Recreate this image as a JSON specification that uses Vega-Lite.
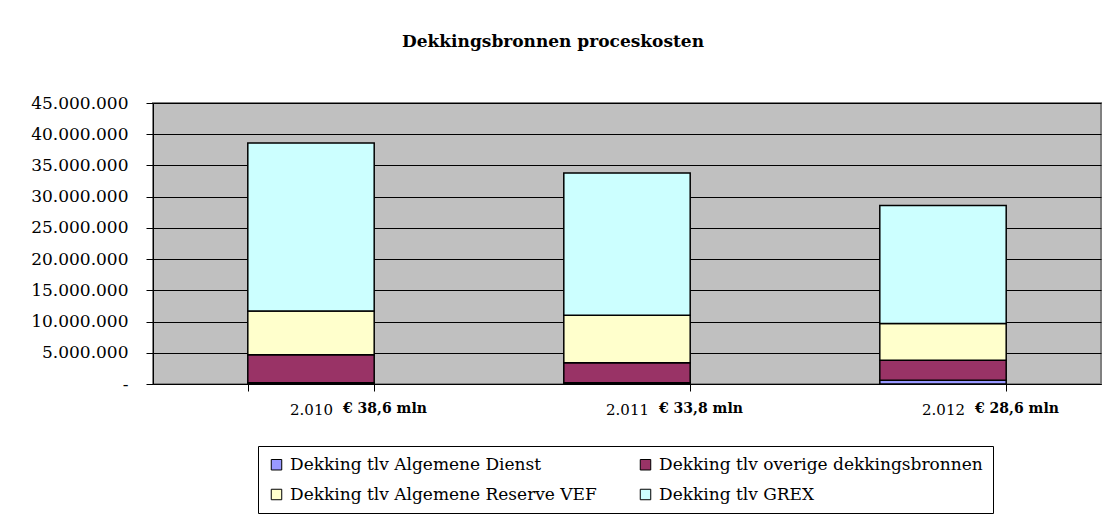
{
  "$schema": "https://vega.github.io/schema/vega-lite/v6.json",
  "width": 948,
  "height": 281,
  "autosize": {"type": "none"},
  "padding": {"left": 153, "top": 103, "right": 5, "bottom": 131},
  "background": "white",
  "title": {
    "text": "Dekkingsbronnen proceskosten",
    "font": "DejaVu Serif",
    "fontSize": 17,
    "fontWeight": "bold",
    "color": "black",
    "anchor": "middle",
    "frame": "group",
    "dx": -74,
    "offset": 43
  },
  "config": {
    "view": {"fill": "#C0C0C0", "stroke": "#808080", "strokeWidth": 2},
    "axis": {
      "labelFont": "DejaVu Serif",
      "labelColor": "black",
      "tickColor": "black",
      "domainColor": "black",
      "gridColor": "black",
      "gridOpacity": 1,
      "labelOverlap": false,
      "title": null
    }
  },
  "layer": [
    {
      "data": {
        "values": [
          {"jaar": "2.010", "bron": "Dekking tlv Algemene Dienst", "orde": 1, "waarde": 200000},
          {"jaar": "2.010", "bron": "Dekking tlv overige dekkingsbronnen", "orde": 2, "waarde": 4500000},
          {"jaar": "2.010", "bron": "Dekking tlv Algemene Reserve VEF", "orde": 3, "waarde": 7000000},
          {"jaar": "2.010", "bron": "Dekking tlv GREX", "orde": 4, "waarde": 26900000},
          {"jaar": "2.011", "bron": "Dekking tlv Algemene Dienst", "orde": 1, "waarde": 200000},
          {"jaar": "2.011", "bron": "Dekking tlv overige dekkingsbronnen", "orde": 2, "waarde": 3200000},
          {"jaar": "2.011", "bron": "Dekking tlv Algemene Reserve VEF", "orde": 3, "waarde": 7600000},
          {"jaar": "2.011", "bron": "Dekking tlv GREX", "orde": 4, "waarde": 22800000},
          {"jaar": "2.012", "bron": "Dekking tlv Algemene Dienst", "orde": 1, "waarde": 600000},
          {"jaar": "2.012", "bron": "Dekking tlv overige dekkingsbronnen", "orde": 2, "waarde": 3200000},
          {"jaar": "2.012", "bron": "Dekking tlv Algemene Reserve VEF", "orde": 3, "waarde": 5900000},
          {"jaar": "2.012", "bron": "Dekking tlv GREX", "orde": 4, "waarde": 18900000}
        ]
      },
      "mark": {"type": "bar", "stroke": "black", "strokeWidth": 1.5},
      "encoding": {
        "x": {
          "field": "jaar",
          "type": "nominal",
          "scale": {"paddingInner": 0.6, "paddingOuter": 0.3},
          "axis": {
            "labelAngle": 0,
            "labelFontSize": 15,
            "tickSize": 7,
            "tickBand": "extent",
            "labelPadding": 11,
            "grid": false
          }
        },
        "y": {
          "field": "waarde",
          "type": "quantitative",
          "stack": "zero",
          "scale": {"domain": [0, 45000000], "nice": false},
          "axis": {
            "values": [0, 5000000, 10000000, 15000000, 20000000, 25000000, 30000000, 35000000, 40000000, 45000000],
            "labelExpr": "datum.value == 0 ? '-' : replace(replace(format(datum.value, ','), ',', '.'), ',', '.')",
            "labelFontSize": 17,
            "labelOverlap": false,
            "tickSize": 7,
            "labelPadding": 18,
            "grid": true,
            "gridWidth": 1
          }
        },
        "order": {"field": "orde", "type": "quantitative", "sort": "ascending"},
        "color": {
          "field": "bron",
          "type": "nominal",
          "scale": {
            "domain": [
              "Dekking tlv Algemene Dienst",
              "Dekking tlv overige dekkingsbronnen",
              "Dekking tlv Algemene Reserve VEF",
              "Dekking tlv GREX"
            ],
            "range": ["#9999FF", "#993366", "#FFFFCC", "#CCFFFF"]
          },
          "legend": {
            "title": null,
            "orient": "none",
            "direction": "horizontal",
            "legendX": 105,
            "legendY": 343,
            "columns": 2,
            "columnPadding": 40,
            "rowPadding": 12,
            "padding": 10,
            "strokeColor": "black",
            "fillColor": "white",
            "labelFont": "DejaVu Serif",
            "labelFontSize": 17,
            "labelColor": "black",
            "labelLimit": 400,
            "labelOffset": 5,
            "symbolType": "square",
            "symbolSize": 110,
            "symbolStrokeColor": "black",
            "symbolStrokeWidth": 1
          }
        }
      }
    },
    {
      "data": {
        "values": [
          {"jaar": "2.010", "label": "€ 38,6 mln"},
          {"jaar": "2.011", "label": "€ 33,8 mln"},
          {"jaar": "2.012", "label": "€ 28,6 mln"}
        ]
      },
      "mark": {
        "type": "text",
        "align": "left",
        "baseline": "middle",
        "dx": 32,
        "dy": 25,
        "font": "DejaVu Serif",
        "fontSize": 14,
        "fontWeight": "bold",
        "color": "black"
      },
      "encoding": {
        "x": {
          "field": "jaar",
          "type": "nominal",
          "axis": {
            "labelAngle": 0,
            "labelFontSize": 15,
            "tickSize": 7,
            "tickBand": "extent",
            "labelPadding": 11,
            "grid": false
          }
        },
        "y": {
          "datum": 0,
          "type": "quantitative",
          "axis": {
            "values": [0, 5000000, 10000000, 15000000, 20000000, 25000000, 30000000, 35000000, 40000000, 45000000],
            "labelExpr": "datum.value == 0 ? '-' : replace(replace(format(datum.value, ','), ',', '.'), ',', '.')",
            "labelFontSize": 17,
            "labelOverlap": false,
            "tickSize": 7,
            "labelPadding": 18,
            "grid": true,
            "gridWidth": 1
          }
        },
        "text": {"field": "label"}
      }
    }
  ]
}
